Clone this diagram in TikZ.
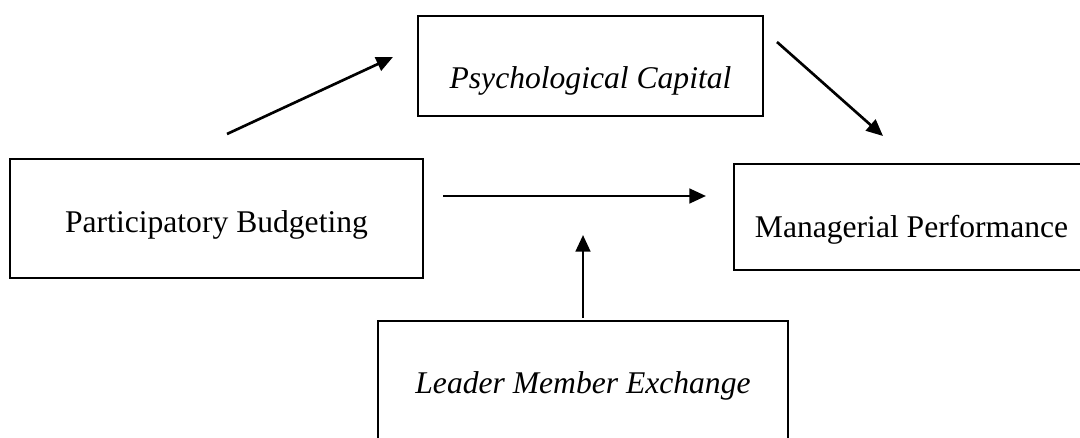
\documentclass[tikz,border=0pt]{standalone}
\usepackage{fontspec}
\setmainfont{Liberation Serif}
\usetikzlibrary{arrows.meta}
\begin{document}
\begin{tikzpicture}[x=0.75pt,y=-0.75pt,
  box/.style={draw=black,line width=1.4pt,inner sep=0pt,anchor=north,
    font=\fontsize{23.7}{28}\selectfont,align=center},
  arr/.style={line width=2pt,-{Triangle[length=12.5pt,width=11pt]}}]
\useasboundingbox (0,0) rectangle (1080,438);
\clip (0,0) rectangle (1080,438);
\node[box,minimum width=258.75pt,text height=54.75pt,text depth=20.25pt] (pc) at (590.5,15) {\textit{Psychological Capital}};
\node[box,minimum width=309.75pt,text height=55.5pt,text depth=33.75pt] (pb) at (216.5,158) {Participatory Budgeting};
\node[box,minimum width=266.25pt,text height=55.5pt,text depth=24pt] (mp) at (911.5,163) {Managerial Performance};
\node[box,minimum width=307.5pt,text height=54.75pt,text depth=60pt] (lmx) at (583,320) {\textit{Leader Member Exchange}};
\coordinate (a1s) at (227,134);
\coordinate (a1e) at (393,57);
\coordinate (a2s) at (777,42);
\coordinate (a2e) at (883,136);
\coordinate (a3s) at (443,196);
\coordinate (a3e) at (706,196);
\coordinate (a4s) at (583,318);
\coordinate (a4e) at (583,235);
\draw[arr] (a1s) -- (a1e);
\draw[arr] (a2s) -- (a2e);
\draw[arr] (a3s) -- (a3e);
\draw[arr] (a4s) -- (a4e);
\end{tikzpicture}
\end{document}
